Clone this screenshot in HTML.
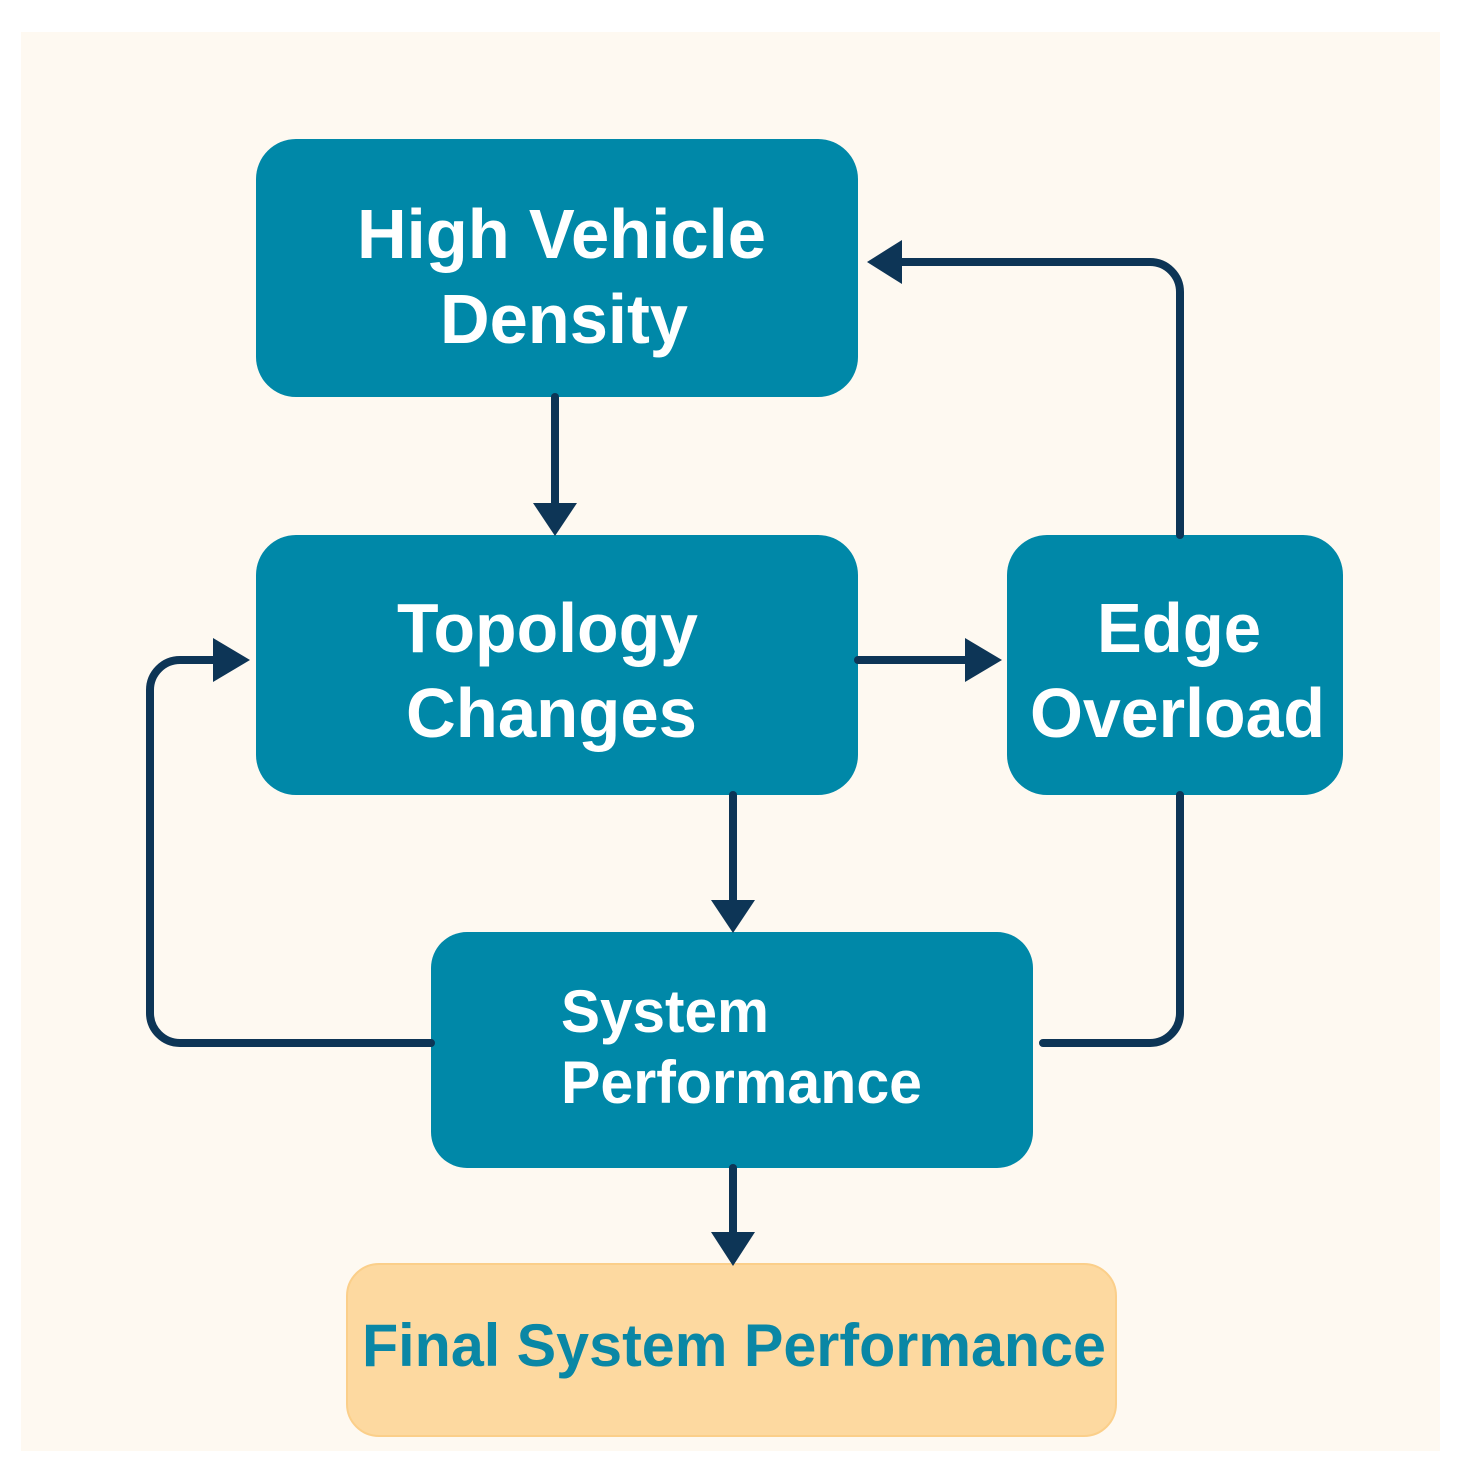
<!DOCTYPE html>
<html><head><style>html,body{margin:0;padding:0;background:#fff;}svg{display:block}</style></head>
<body>
<svg width="1467" height="1484" viewBox="0 0 1467 1484" xmlns="http://www.w3.org/2000/svg">
<rect x="21" y="32" width="1419" height="1419" fill="#fef9f1"/>
<g fill="#0088a8">
<rect x="256" y="139" width="602" height="258" rx="40"/>
<rect x="256" y="535" width="602" height="260" rx="40"/>
<rect x="1007" y="535" width="336" height="260" rx="40"/>
<rect x="431" y="932" width="602" height="236" rx="36"/>
</g>
<rect x="347" y="1264" width="769" height="172" rx="32" fill="#fdd9a0" stroke="#fbcf8a" stroke-width="2"/>
<g stroke="#0d3556" stroke-width="8" fill="none" stroke-linecap="round" stroke-linejoin="round">
<line x1="555" y1="397" x2="555" y2="508"/>
<line x1="733" y1="795" x2="733" y2="905"/>
<line x1="733" y1="1168" x2="733" y2="1238"/>
<line x1="858" y1="660" x2="972" y2="660"/>
<path d="M1180 535 V292 A30 30 0 0 0 1150 262 H898"/>
<path d="M1180 795 V1013 A30 30 0 0 1 1150 1043 H1043"/>
<path d="M431 1043 H180 A30 30 0 0 1 150 1013 V690 A30 30 0 0 1 180 660 H220"/>
</g>
<g fill="#0d3556">
<polygon points="533,503 577,503 555,536"/>
<polygon points="711,900 755,900 733,933"/>
<polygon points="711,1232 755,1232 733,1266"/>
<polygon points="965,638 965,682 1002,660"/>
<polygon points="902,240 902,284 867,262"/>
<polygon points="213,638 213,682 250,660"/>
</g>
<g font-family="Liberation Sans, Arial, sans-serif" font-weight="bold" fill="#fff" font-size="70">
<text x="357" y="258" textLength="409" lengthAdjust="spacingAndGlyphs">High Vehicle</text>
<text x="440" y="343" textLength="248" lengthAdjust="spacingAndGlyphs">Density</text>
<text x="397" y="652" textLength="301" lengthAdjust="spacingAndGlyphs">Topology</text>
<text x="406" y="737" textLength="291" lengthAdjust="spacingAndGlyphs">Changes</text>
<text x="1097" y="652" textLength="164" lengthAdjust="spacingAndGlyphs">Edge</text>
<text x="1030" y="737" textLength="295" lengthAdjust="spacingAndGlyphs">Overload</text>
<text x="561" y="1032" font-size="60" textLength="208" lengthAdjust="spacingAndGlyphs">System</text>
<text x="561" y="1103" font-size="60" textLength="361" lengthAdjust="spacingAndGlyphs">Performance</text>
<text x="362" y="1366" font-size="60" fill="#0a87a5" textLength="744" lengthAdjust="spacingAndGlyphs">Final System Performance</text>
</g>
</svg>
</body></html>
